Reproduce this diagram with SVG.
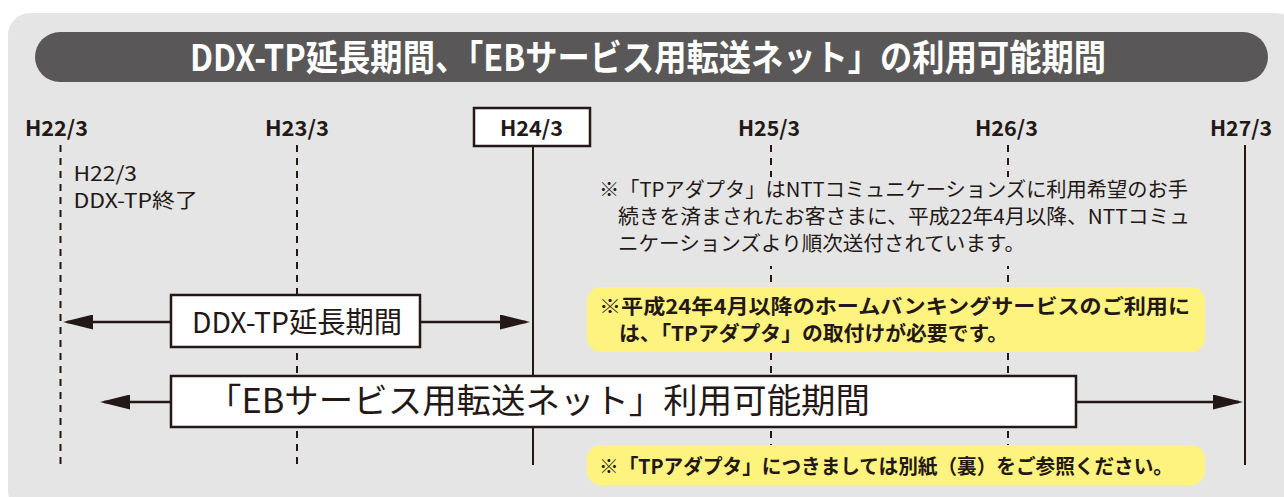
<svg xmlns="http://www.w3.org/2000/svg" width="1284" height="497" viewBox="0 0 1284 497">
  <defs>
    <style>
      text { font-family: "Noto Sans CJK JP", "Noto Sans", sans-serif; fill: #231815; }
      .title { font-size: 36px; font-weight: bold; fill: #ffffff; }
      .lbl { font-size: 21px; font-weight: bold; }
      .reg { font-size: 20px; }
      .note { font-size: 20px; }
      .ynote { font-size: 20px; font-weight: bold; }
      .dash { stroke: #231815; stroke-width: 2; stroke-dasharray: 7 6; fill: none; }
      .solid { stroke: #231815; stroke-width: 2; fill: none; }
      .box { fill: #ffffff; stroke: #231815; stroke-width: 2.5; }
      .yel { fill: #fff37f; }
      .arr { stroke: #231815; stroke-width: 2.5; fill: none; marker-end: url(#ah); }
    </style>
    <marker id="ah" markerUnits="userSpaceOnUse" viewBox="0 0 30 15" markerWidth="30" markerHeight="15" refX="26" refY="7.5" orient="auto">
      <path d="M0,0 L30,7.5 L0,15 Z" fill="#231815"/>
    </marker>
  </defs>

  <rect x="8" y="13" width="1290" height="500" rx="22" fill="#e5e5e5"/>

  <g id="title">
    <rect x="35" y="32" width="1233" height="50" rx="25" fill="#595757"/>
    <text class="title" x="190" y="71" textLength="916" lengthAdjust="spacingAndGlyphs">DDX-TP延長期間、「EBサービス用転送ネット」の利用可能期間</text>
  </g>

  <g id="timeline-lines">
    <line class="dash" x1="60.5" y1="145" x2="60.5" y2="465"/>
    <line class="dash" x1="297" y1="145" x2="297" y2="465"/>
    <line class="solid" x1="533" y1="146" x2="533" y2="465"/>
    <line class="dash" x1="771" y1="145" x2="771" y2="465"/>
    <line class="dash" x1="1008" y1="145" x2="1008" y2="465"/>
    <line class="solid" x1="1245" y1="145" x2="1245" y2="465"/>
  </g>

  <g id="labels">
    <text class="lbl" x="25" y="136" textLength="63" lengthAdjust="spacingAndGlyphs">H22/3</text>
    <text class="lbl" x="265" y="136" textLength="64" lengthAdjust="spacingAndGlyphs">H23/3</text>
    <text class="lbl" x="738" y="136" textLength="62" lengthAdjust="spacingAndGlyphs">H25/3</text>
    <text class="lbl" x="975" y="136" textLength="63" lengthAdjust="spacingAndGlyphs">H26/3</text>
    <text class="lbl" x="1210" y="136" textLength="62" lengthAdjust="spacingAndGlyphs">H27/3</text>
  </g>

  <g id="node-h24">
    <rect class="box" x="474" y="108" width="116" height="38"/>
    <text class="lbl" x="500" y="136" textLength="63" lengthAdjust="spacingAndGlyphs">H24/3</text>
  </g>

  <g id="note-ddx-end">
    <text class="reg" x="73.5" y="181" textLength="63.5" lengthAdjust="spacingAndGlyphs">H22/3</text>
    <text class="reg" x="73.5" y="208" textLength="124.5" lengthAdjust="spacingAndGlyphs">DDX-TP終了</text>
  </g>

  <g id="note-adapter">
    <rect x="590" y="177" width="610" height="89" fill="#e5e5e5"/>
    <text class="note" x="599" y="197" textLength="589" lengthAdjust="spacingAndGlyphs">※「TPアダプタ」はNTTコミュニケーションズに利用希望のお手</text>
    <text class="note" x="618" y="224" textLength="572" lengthAdjust="spacingAndGlyphs">続きを済まされたお客さまに、平成22年4月以降、NTTコミュ</text>
    <text class="note" x="618" y="251" textLength="407" lengthAdjust="spacingAndGlyphs">ニケーションズより順次送付されています。</text>
  </g>

  <g id="note-yellow-1">
    <rect class="yel" x="587" y="287" width="618" height="65" rx="14"/>
    <text class="ynote" x="599" y="314" textLength="591" lengthAdjust="spacingAndGlyphs">※平成24年4月以降のホームバンキングサービスのご利用に</text>
    <text class="ynote" x="619" y="341" textLength="389" lengthAdjust="spacingAndGlyphs">は、「TPアダプタ」の取付けが必要です。</text>
  </g>

  <g id="note-yellow-2">
    <rect class="yel" x="587" y="445" width="618" height="40" rx="14"/>
    <text class="ynote" x="599" y="474" textLength="574" lengthAdjust="spacingAndGlyphs">※「TPアダプタ」につきましては別紙（裏）をご参照ください。</text>
  </g>

  <g id="connectors">
    <line class="arr" x1="171" y1="322" x2="67" y2="322"/>
    <line class="arr" x1="420" y1="322" x2="526" y2="322"/>
    <line class="arr" x1="171" y1="402" x2="104" y2="402"/>
    <line class="arr" x1="1076" y1="402" x2="1239" y2="402"/>
  </g>

  <g id="node-ddx-period">
    <rect class="box" x="171" y="295" width="249" height="52"/>
    <text x="192" y="333" font-size="29" textLength="210" lengthAdjust="spacingAndGlyphs">DDX-TP延長期間</text>
  </g>

  <g id="node-eb-period">
    <rect class="box" x="171" y="376" width="905" height="51"/>
    <text x="207" y="413" font-size="34" textLength="663" lengthAdjust="spacingAndGlyphs">「EBサービス用転送ネット」利用可能期間</text>
  </g>
</svg>
